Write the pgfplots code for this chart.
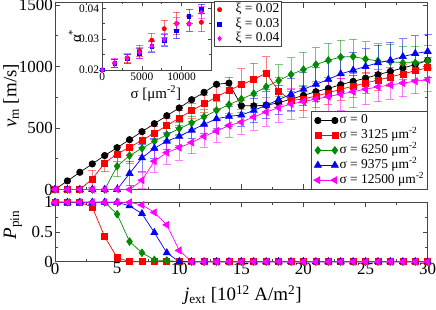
\documentclass[border=0pt]{standalone}
\usepackage{fontspec}
\setmainfont{Liberation Serif}
\usepackage{pgfplots}
\pgfplotsset{compat=1.18}
\usepackage{pgfplotstable}
\definecolor{xgreen}{RGB}{0,139,0}
\definecolor{xmag}{RGB}{255,0,255}
\definecolor{xframe}{RGB}{70,70,70}

% ---------- top panel: v_m vs j_ext ----------
\pgfplotstableread{
x y e
0 0 0
1 70 0
2 140 0
3 208 0
4 276 0
5 340 0
6 405 0
7 470 0
8 535 0
9 600 0
10 663 0
11 730 0
12 790 0
13 855 0
14 865 0
15 680 0
16 680 0
17 685 0
18 705 0
19 735 0
20 765 0
21 795 0
22 822 0
23 852 0
24 879 0
25 905 0
26 933 0
27 960 0
28 988 0
29 1015 0
30 1049 0
}\vblack
\pgfplotstableread{
x y e
0 0 0
1 0 0
2 0 0
3 86 70
4 216 70
5 289 60
6 343 55
7 400 55
8 460 55
9 519 60
10 581 60
11 641 60
12 697 70
13 752 90
14 805 110
15 852 130
16 895 130
17 946 135
18 800 110
19 725 90
20 735 90
21 760 90
22 785 90
23 815 90
24 840 90
25 865 85
26 890 85
27 915 80
28 940 80
29 965 80
30 990 80
}\vred
\pgfplotstableread{
x y e
0 0 0
1 0 0
2 0 0
3 0 0
4 0 0
5 189 85
6 276 60
7 335 55
8 392 55
9 446 50
10 495 50
11 541 55
12 590 60
13 643 70
14 689 90
15 735 110
16 780 120
17 835 125
18 885 130
19 935 135
20 975 140
21 1015 140
22 1050 140
23 1076 140
24 1081 140
25 1060 140
26 1045 140
27 1040 140
28 1030 135
29 1030 135
30 1045 130
}\vgreen
\pgfplotstableread{
x y e
0 0 0
1 0 0
2 0 0
3 0 0
4 0 0
5 0 0
6 130 100
7 257 110
8 335 80
9 393 70
10 432 70
11 482 70
12 530 70
13 575 75
14 595 80
15 605 90
16 643 100
17 685 110
18 730 120
19 775 130
20 815 135
21 855 140
22 895 145
23 940 145
24 970 145
25 1000 145
26 1030 145
27 1050 145
28 1080 145
29 1105 145
30 1122 140
}\vblue
\pgfplotstableread{
x y e
0 0 0
1 0 0
2 0 0
3 0 0
4 0 0
5 0 0
6 0 0
7 75 65
8 230 90
9 300 95
10 340 100
11 382 90
12 432 90
13 475 90
14 520 95
15 548 100
16 590 110
17 630 115
18 665 120
19 695 125
20 715 130
21 735 130
22 755 130
23 775 130
24 795 130
25 815 125
26 835 120
27 850 115
28 865 110
29 880 100
30 892 95
}\vmag

% ---------- bottom panel: P_pin ----------
\pgfplotstableread{
x y
0 1
1 1
2 1
3 0.92
4 0.42
5 0.07
6 0
7 0
8 0
9 0
10 0
11 0
12 0
13 0
14 0
15 0
16 0
17 0
18 0
19 0
20 0
21 0
22 0
23 0
24 0
25 0
26 0
27 0
28 0
29 0
30 0
}\pred
\pgfplotstableread{
x y
0 1
1 1
2 1
3 1
4 1
5 0.80
6 0.34
7 0.15
8 0.03
9 0.02
10 0
11 0
12 0
13 0
14 0
15 0
16 0
17 0
18 0
19 0
20 0
21 0
22 0
23 0
24 0
25 0
26 0
27 0
28 0
29 0
30 0
}\pgreen
\pgfplotstableread{
x y
0 1
1 1
2 1
3 1
4 1
5 1
6 0.94
7 0.81
8 0.49
9 0.15
10 0
11 0
12 0
13 0
14 0
15 0
16 0
17 0
18 0
19 0
20 0
21 0
22 0
23 0
24 0
25 0
26 0
27 0
28 0
29 0
30 0
}\pblue
\pgfplotstableread{
x y
0 1
1 1
2 1
3 1
4 1
5 1
6 1
7 0.955
8 0.83
9 0.62
10 0.19
11 0
12 0
13 0
14 0
15 0
16 0
17 0
18 0
19 0
20 0
21 0
22 0
23 0
24 0
25 0
26 0
27 0
28 0
29 0
30 0
}\pmag

% ---------- inset: alpha* vs sigma ----------
\pgfplotstableread{
x y e
0 0.0200 0
1562.5 0.0222 0.0013
3125 0.0239 0.0013
4687.5 0.0263 0.0018
6250 0.0297 0.0022
7812.5 0.0334 0.0028
9375 0.0351 0.0036
10937.5 0.0350 0.0025
12500 0.0355 0.0030
}\ared
\pgfplotstableread{
x y e
0 0.0200 0
1562.5 0.0222 0.0013
3125 0.0236 0.0015
4687.5 0.0254 0.0015
6250 0.0276 0.0018
7812.5 0.0297 0.0020
9375 0.0327 0.0025
10937.5 0.0375 0.0022
12500 0.0398 0.0015
}\ablue
\pgfplotstableread{
x y e
0 0.0200 0
1562.5 0.0223 0.0015
3125 0.0238 0.0015
4687.5 0.0257 0.0018
6250 0.0278 0.0018
7812.5 0.0299 0.0020
9375 0.0351 0.0020
10937.5 0.0351 0.0025
12500 0.0387 0.0020
}\amag

\pgfplotsset{
  grace/.style={
    scale only axis, clip=false,
    axis line style={xframe, line width=0.8bp},
    every tick/.style={xframe, line width=0.7bp},
    major tick length=5bp, minor tick length=2.8bp,
    tick align=inside,
    /pgf/number format/assume math mode=true,
    /pgf/number format/1000 sep={},
    scaled ticks=false,
  },
  every axis plot/.append style={line width=0.7bp},
  ebar/.style={error bars/.cd, y dir=both, y explicit,
    error bar style={line width=0.8bp, opacity=0.5},
    error mark options={rotate=90, mark size=4bp, line width=0.8bp, opacity=0.5}},
  ebars/.style={error bars/.cd, y dir=both, y explicit,
    error bar style={line width=0.7bp, opacity=0.55},
    error mark options={rotate=90, mark size=3.5bp, line width=0.7bp, opacity=0.55}},
  mk0/.style={black, mark=*, mark size=3.2bp, mark options={solid, fill=black}},
  mk1/.style={red, mark=square*, mark size=3.0bp, mark options={solid, fill=red}},
  mk2/.style={xgreen, mark=diamond*, mark size=3.8bp, mark options={solid, fill=xgreen}},
  mk3/.style={blue, mark=triangle*, mark size=4bp, mark options={solid, fill=blue}},
  mk4/.style={xmag, mark=triangle*, mark size=4bp, mark options={solid, fill=xmag, rotate=90}},
}

\begin{document}
\begin{tikzpicture}
\useasboundingbox (-55bp,-120.5bp) rectangle (381bp,189.5bp);

% ===== top panel =====
\begin{axis}[grace,
  at={(0bp,0bp)}, anchor=south west,
  width=372.7bp, height=187bp,
  xmin=0, xmax=30, ymin=0, ymax=1520,
  xtick={0,5,...,30}, xticklabels={},
  minor x tick num=1,
  ytick={0,500,1000,1500}, yticklabels={0,500,1000,1500},
  minor y tick num=1,
  yticklabel style={font=\fontsize{17}{17}\selectfont, inner sep=1bp, xshift=-1bp},
  ylabel={\textit{v}\textsubscript{m} [m/s]},
  ylabel style={at={(axis description cs:-0.118,0.5)}, anchor=center, font=\fontsize{19}{19}\selectfont},
  legend style={at={(1,0)}, anchor=south east, font=\fontsize{13.5}{14}\selectfont,
    draw=xframe, line width=0.8bp, inner xsep=2bp, inner ysep=1.5bp, row sep=0bp,
    nodes={inner sep=1.2bp, text height=9.5bp, text depth=3bp}},
  legend cell align=left,
  legend image code/.code={\draw[#1] plot coordinates {(0bp,0bp) (17bp,0bp)};},
]
\addplot[mk0] table[x=x, y=y] {\vblack};
\addlegendentry{σ = 0}
\addplot[mk1, ebar] table[x=x, y=y, y error=e] {\vred};
\addlegendentry{σ = 3125 μm\textsuperscript{-2}}
\addplot[mk2, ebar] table[x=x, y=y, y error=e] {\vgreen};
\addlegendentry{σ = 6250 μm\textsuperscript{-2}}
\addplot[mk3, ebar] table[x=x, y=y, y error=e] {\vblue};
\addlegendentry{σ = 9375 μm\textsuperscript{-2}}
\addplot[mk4, ebar] table[x=x, y=y, y error=e] {\vmag};
\addlegendentry{σ = 12500 μm\textsuperscript{-2}}
\end{axis}

% ===== bottom panel =====
\begin{axis}[grace,
  at={(0bp,-72.2bp)}, anchor=south west,
  width=372.7bp, height=59.4bp,
  xmin=0, xmax=30, ymin=0, ymax=1,
  xtick={0,5,...,30}, xticklabels={0,5,10,15,20,25,30},
  minor x tick num=1,
  ytick={0,0.5,1}, yticklabels={0,0.5,1},
  minor y tick num=1,
  xticklabel style={font=\fontsize{17}{17}\selectfont, inner sep=1bp},
  yticklabel style={font=\fontsize{17}{17}\selectfont, inner sep=1bp, xshift=-1bp},
  xlabel={\textit{j}\textsubscript{ext} [10\textsuperscript{12} A/m\textsuperscript{2}]},
  xlabel style={at={(axis description cs:0.504,-0.56)}, anchor=center, font=\fontsize{19}{19}\selectfont},
  ylabel={\textit{P}\textsubscript{pin}},
  ylabel style={at={(axis description cs:-0.113,0.62)}, anchor=center, font=\fontsize{19}{19}\selectfont},
]
\addplot[mk1] table[x=x, y=y] {\pred};
\addplot[mk2] table[x=x, y=y] {\pgreen};
\addplot[mk3] table[x=x, y=y] {\pblue};
\addplot[mk4] table[x=x, y=y] {\pmag};
\end{axis}

% ===== inset =====
\begin{axis}[grace,
  at={(47.3bp,119.5bp)}, anchor=south west,
  width=109.4bp, height=67.7bp,
  axis background/.style={fill=white},
  xmin=0, xmax=13800, ymin=0.02, ymax=0.042,
  xtick={0,5000,10000}, xticklabels={0,5000,10000},
  minor x tick num=1,
  ytick={0.02,0.03,0.04}, yticklabels={0.02,0.03,0.04},
  minor y tick num=1,
  major tick length=4bp, minor tick length=2.2bp,
  xticklabel style={font=\fontsize{11.5}{11.5}\selectfont, inner sep=1bp, yshift=-2bp},
  yticklabel style={font=\fontsize{11.5}{11.5}\selectfont, inner sep=1bp, xshift=-2bp},
  xlabel={σ [μm\textsuperscript{-2}]},
  xlabel style={at={(axis description cs:0.49,-0.35)}, anchor=center, font=\fontsize{15}{15}\selectfont},
  ylabel={α\textsuperscript{*}},
  ylabel style={at={(axis description cs:-0.25,0.5)}, anchor=center, font=\fontsize{15}{15}\selectfont},
  legend style={at={(1,1)}, anchor=north west, xshift=2.5bp, yshift=0.8bp,
    font=\fontsize{13.5}{14}\selectfont, fill=white,
    draw=xframe, line width=0.8bp, inner xsep=1bp, inner ysep=0.5bp, row sep=0bp,
    nodes={inner sep=1bp, text height=9.5bp, text depth=3bp}},
  legend cell align=left,
  legend image code/.code={\path[draw=none] (0bp,0bp) (19bp,0bp); \draw[#1, draw=none] plot coordinates {(4bp,0bp)};},
]
\addplot[red, only marks, mark=*, mark size=2.1bp, mark options={fill=red, draw=red}, ebars] table[x=x, y=y, y error=e] {\ared};
\addlegendentry{ξ = 0.02}
\addplot[blue, only marks, mark=square*, mark size=1.8bp, mark options={fill=blue, draw=blue}, ebars] table[x=x, y=y, y error=e] {\ablue};
\addlegendentry{ξ = 0.03}
\addplot[xmag, only marks, mark=diamond*, mark size=2.4bp, mark options={fill=xmag, draw=xmag}, ebars] table[x=x, y=y, y error=e] {\amag};
\addlegendentry{ξ = 0.04}
\end{axis}
\end{tikzpicture}
\end{document}
